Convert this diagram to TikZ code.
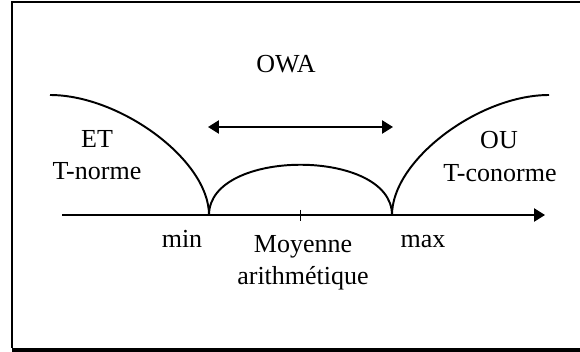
\documentclass[tikz,border=0pt]{standalone}
\usepackage{fontspec}
\setmainfont{Liberation Serif}
\usetikzlibrary{arrows.meta}

\begin{document}
\begin{tikzpicture}[x=0.4615pt, y=-0.4615pt, line width=0.9pt,
		every node/.style={font=\fontsize{12}{14}\selectfont, inner sep=0pt, anchor=base},
		tip/.style={-{Triangle[length=5pt, width=6pt]}},
		tips/.style={{Triangle[length=5pt, width=6pt]}-{Triangle[length=5pt, width=6pt]}}]
		\def\ax{215};
		\def\xmin{209};
		\def\xmax{392};
		\def\ytop{95};

		\useasboundingbox (0,0) rectangle (580,352);

		% frame
		\draw (580,2) -- (12,2) -- (12,348);
		\draw[line width=1.85pt] (12,350) -- (580,350);

		\coordinate (start) at (62,\ax);
		\coordinate (end) at (545,\ax);
		\coordinate (min) at (\xmin,\ax);
		\coordinate (max) at (\xmax,\ax);
		\coordinate (mid) at ({(\xmin+\xmax)/2},\ax);

		\draw[tip] (start) -- (end);
		\draw (mid) ++(0,-5) -- ++(0,11);

		% curves
		\draw (50,\ytop) .. controls (120,\ytop) and (\xmin,160) .. (min);
		\draw (max) .. controls (\xmax,160) and (479,\ytop) .. (549,\ytop);
		\draw (min) .. controls (\xmin,148) and (\xmax,148) .. (max);

		\coordinate (owaleft) at (208,127);
		\coordinate (owaright) at (393,127);
		\draw[tips] (owaleft) -- (owaright);

		\node (owa) at (286,73) {OWA};
		\node (et) at (97,148) {ET};
		\node (tnorme) at (97,180) {T-norme};
		\node (ou) at (499,149) {OU};
		\node (tconorme) at (500,182) {T-conorme};
		\node (minlabel) at (182,247) {min};
		\node (maxlabel) at (423,247) {max};
		\node (moyenne) at (303,253) {Moyenne};
		\node (arith) at (303,285) {arithmétique};
	\end{tikzpicture}
\end{document}
